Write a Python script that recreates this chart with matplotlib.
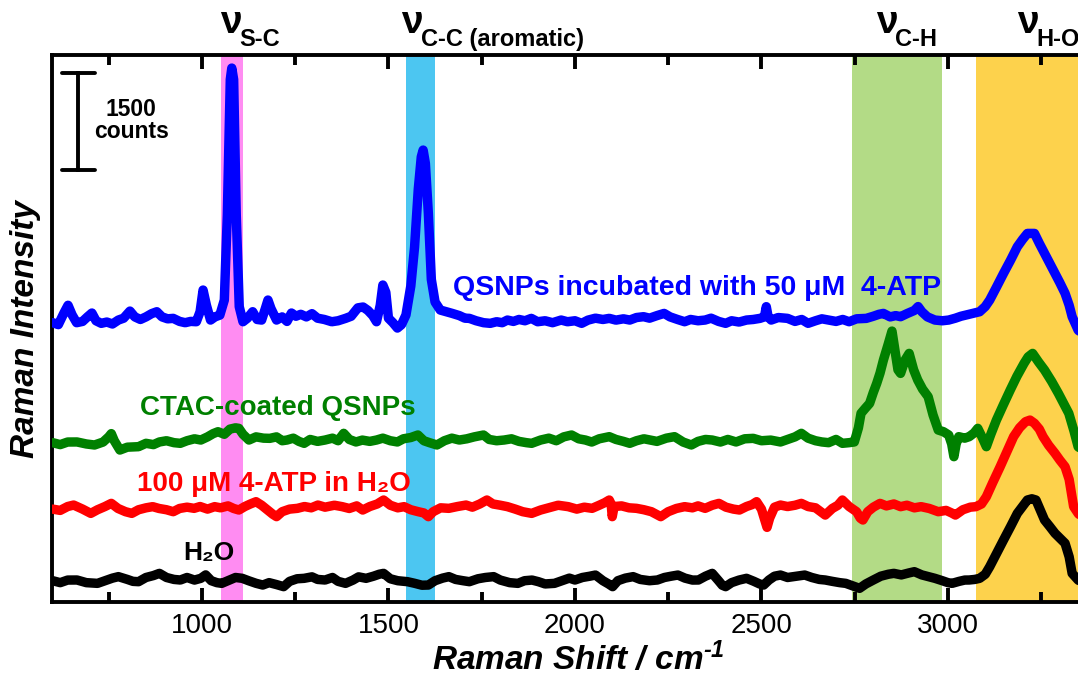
import matplotlib
matplotlib.use("Agg")
import matplotlib.pyplot as plt
from matplotlib.transforms import blended_transform_factory

plt.rcParams['font.family'] = ['Liberation Sans', 'DejaVu Sans']
plt.rcParams['mathtext.fontset'] = 'custom'
plt.rcParams['mathtext.rm'] = 'Liberation Sans:italic:bold'
plt.rcParams['mathtext.it'] = 'Liberation Sans:italic:bold'
plt.rcParams['mathtext.bf'] = 'Liberation Sans:bold'

# --- spectra (Raman shift in cm-1, intensity in counts incl. offset) ---
blue_x = [600, 615, 630, 641, 652, 664, 680, 693, 705, 716, 730, 745, 760, 776, 790, 807, 820, 835, 850, 865,
          879, 893, 908, 923, 940, 955, 970, 985, 995, 1003, 1012, 1023, 1035, 1048, 1060, 1068, 1076, 1080,
          1085, 1092, 1100, 1110, 1122, 1136, 1148, 1160, 1170, 1177, 1185, 1200, 1215, 1228, 1240, 1252,
          1265, 1280, 1295, 1310, 1328, 1348, 1365, 1385, 1400, 1418, 1432, 1445, 1458, 1468, 1478, 1485,
          1493, 1500, 1512, 1524, 1535, 1547, 1560, 1570, 1580, 1588, 1593, 1599, 1607, 1615, 1625, 1639,
          1655, 1671, 1690, 1705, 1717, 1735, 1755, 1773, 1790, 1805, 1819, 1835, 1850, 1866, 1883, 1900,
          1920, 1940, 1963, 1980, 2000, 2018, 2035, 2055, 2075, 2092, 2110, 2130, 2147, 2165, 2184, 2200,
          2220, 2239, 2255, 2275, 2294, 2310, 2330, 2349, 2365, 2385, 2404, 2420, 2440, 2460, 2478, 2496,
          2508, 2513, 2518, 2526, 2545, 2570, 2590, 2608, 2625, 2645, 2662, 2680, 2700, 2718, 2735, 2755,
          2781, 2800, 2815, 2827, 2845, 2860, 2873, 2890, 2910, 2920, 2930, 2945, 2965, 2985, 3002, 3020,
          3035, 3048, 3065, 3085, 3100, 3112, 3130, 3149, 3168, 3186, 3200, 3213, 3232, 3245, 3259, 3273,
          3287, 3300, 3314, 3325, 3333, 3349, 3360]
blue_y = [4330, 4300, 4480, 4600, 4450, 4330, 4350, 4420, 4480, 4360, 4320, 4340, 4310, 4371, 4400, 4510,
          4420, 4380, 4420, 4470, 4500, 4420, 4390, 4397, 4350, 4330, 4350, 4345, 4500, 4836, 4600, 4371,
          4420, 4448, 4681, 6000, 8100, 8277, 8100, 6000, 4578, 4345, 4400, 4500, 4380, 4371, 4550, 4681,
          4550, 4371, 4420, 4350, 4480, 4430, 4460, 4420, 4470, 4400, 4380, 4345, 4360, 4397, 4430, 4560,
          4573, 4520, 4440, 4345, 4600, 4914, 4800, 4400, 4330, 4247, 4300, 4450, 4900, 5500, 6400, 6900,
          7006, 6800, 6024, 5000, 4650, 4526, 4500, 4474, 4440, 4400, 4397, 4360, 4330, 4320, 4345, 4330,
          4371, 4350, 4380, 4360, 4397, 4345, 4360, 4330, 4371, 4345, 4360, 4320, 4370, 4400, 4380, 4397,
          4370, 4390, 4371, 4410, 4423, 4400, 4440, 4474, 4420, 4380, 4345, 4380, 4360, 4371, 4400, 4350,
          4320, 4360, 4340, 4371, 4380, 4397, 4420, 4578, 4420, 4371, 4410, 4397, 4350, 4380, 4320, 4360,
          4390, 4371, 4350, 4380, 4345, 4390, 4397, 4430, 4460, 4474, 4420, 4440, 4423, 4470, 4520, 4580,
          4500, 4420, 4371, 4360, 4371, 4400, 4430, 4448, 4470, 4500, 4580, 4681, 4880, 5094, 5300, 5507,
          5620, 5714, 5714, 5560, 5404, 5250, 5094, 4950, 4785, 4600, 4423, 4216, 4150]

green_x = [600, 620, 640, 665, 690, 712, 735, 750, 757, 765, 780, 800, 830, 850, 870, 886, 905, 925, 942, 960,
           980, 997, 1015, 1030, 1043, 1060, 1075, 1090, 1099, 1110, 1126, 1145, 1165, 1182, 1200, 1215, 1228,
           1245, 1260, 1274, 1290, 1310, 1330, 1350, 1365, 1380, 1395, 1413, 1430, 1450, 1468, 1485, 1505,
           1524, 1540, 1560, 1579, 1595, 1610, 1630, 1650, 1670, 1690, 1710, 1730, 1755, 1770, 1790, 1810,
           1830, 1850, 1870, 1884, 1908, 1930, 1950, 1970, 1991, 2010, 2028, 2045, 2065, 2092, 2110, 2130,
           2147, 2165, 2185, 2202, 2220, 2245, 2267, 2290, 2312, 2330, 2350, 2368, 2390, 2410, 2432, 2455,
           2478, 2500, 2525, 2551, 2570, 2590, 2607, 2625, 2645, 2662, 2680, 2700, 2717, 2735, 2749, 2760,
           2767, 2778, 2790, 2800, 2809, 2818, 2827, 2840, 2850, 2858, 2866, 2873, 2885, 2896, 2908, 2919,
           2932, 2947, 2960, 2974, 2988, 3002, 3010, 3016, 3022, 3029, 3045, 3057, 3070, 3080, 3092, 3103,
           3115, 3130, 3148, 3167, 3185, 3204, 3215, 3227, 3243, 3259, 3278, 3296, 3310, 3324, 3338, 3349,
           3360]
green_y = [2470, 2440, 2480, 2481, 2450, 2434, 2480, 2560, 2610, 2500, 2356, 2400, 2408, 2460, 2440, 2481,
           2500, 2470, 2460, 2500, 2530, 2511, 2560, 2610, 2640, 2600, 2680, 2700, 2692, 2600, 2511, 2560,
           2540, 2537, 2560, 2500, 2511, 2540, 2490, 2460, 2520, 2490, 2511, 2540, 2500, 2615, 2520, 2481,
           2510, 2490, 2511, 2540, 2500, 2481, 2530, 2550, 2589, 2500, 2470, 2434, 2500, 2540, 2511, 2530,
           2560, 2589, 2520, 2500, 2511, 2530, 2490, 2470, 2460, 2511, 2540, 2500, 2560, 2589, 2530, 2511,
           2480, 2530, 2563, 2520, 2490, 2460, 2500, 2530, 2511, 2490, 2540, 2563, 2480, 2434, 2490, 2520,
           2511, 2480, 2520, 2481, 2530, 2537, 2500, 2510, 2481, 2520, 2560, 2615, 2540, 2500, 2481, 2470,
           2520, 2460, 2470, 2481, 2700, 2925, 3000, 3079, 3250, 3389, 3550, 3751, 4000, 4200, 3900, 3600,
           3544, 3750, 3854, 3600, 3441, 3300, 3182, 2900, 2666, 2640, 2589, 2450, 2253, 2450, 2563, 2540,
           2563, 2620, 2692, 2550, 2408, 2600, 2821, 3050, 3286, 3500, 3699, 3800, 3854, 3720, 3596, 3420,
           3235, 3080, 2925, 2650, 2408, 2350]

red_x = [600, 620, 640, 656, 680, 702, 720, 740, 757, 775, 795, 812, 830, 850, 868, 885, 905, 923, 940, 960,
         979, 995, 1015, 1034, 1050, 1070, 1085, 1099, 1115, 1130, 1145, 1160, 1175, 1190, 1200, 1215, 1235,
         1256, 1275, 1293, 1311, 1330, 1355, 1376, 1395, 1415, 1431, 1450, 1470, 1487, 1505, 1525, 1542,
         1560, 1580, 1595, 1607, 1620, 1640, 1662, 1685, 1708, 1725, 1745, 1764, 1780, 1800, 1819, 1840,
         1860, 1884, 1908, 1930, 1955, 1982, 2005, 2025, 2046, 2065, 2080, 2092, 2097, 2100, 2105, 2125,
         2145, 2165, 2185, 2205, 2230, 2250, 2272, 2294, 2315, 2330, 2349, 2368, 2386, 2405, 2425, 2441,
         2460, 2475, 2487, 2500, 2510, 2515, 2522, 2535, 2551, 2570, 2590, 2607, 2625, 2645, 2671, 2690,
         2705, 2717, 2735, 2755, 2765, 2772, 2785, 2800, 2818, 2835, 2855, 2873, 2890, 2910, 2928, 2950,
         2974, 2995, 3010, 3020, 3040, 3060, 3075, 3090, 3103, 3120, 3140, 3158, 3176, 3192, 3208, 3220,
         3232, 3245, 3255, 3270, 3287, 3300, 3314, 3325, 3337, 3349, 3360]
red_y = [1440, 1420, 1480, 1503, 1440, 1374, 1430, 1480, 1529, 1450, 1400, 1374, 1430, 1460, 1478, 1450,
         1430, 1400, 1450, 1470, 1452, 1480, 1440, 1478, 1460, 1490, 1450, 1426, 1480, 1520, 1555, 1500,
         1430, 1360, 1323, 1400, 1440, 1452, 1480, 1460, 1503, 1470, 1500, 1478, 1450, 1490, 1426, 1480,
         1520, 1581, 1500, 1460, 1478, 1430, 1400, 1380, 1323, 1400, 1460, 1452, 1480, 1503, 1470, 1520,
         1581, 1520, 1500, 1478, 1440, 1400, 1374, 1426, 1460, 1500, 1478, 1440, 1470, 1452, 1500, 1540,
         1581, 1520, 1323, 1480, 1490, 1460, 1452, 1430, 1400, 1323, 1400, 1450, 1478, 1460, 1490, 1452,
         1500, 1529, 1470, 1440, 1426, 1480, 1510, 1555, 1440, 1250, 1157, 1300, 1470, 1503, 1480, 1500,
         1529, 1480, 1460, 1348, 1450, 1500, 1581, 1480, 1400, 1300, 1271, 1400, 1470, 1529, 1490, 1520,
         1478, 1500, 1460, 1478, 1450, 1400, 1420, 1380, 1348, 1430, 1470, 1478, 1520, 1632, 1850, 2097,
         2330, 2563, 2700, 2795, 2820, 2770, 2680, 2563, 2430, 2305, 2200, 2097, 1900, 1478, 1374, 1300]

black_x = [600, 620, 640, 665, 690, 720, 745, 760, 776, 800, 815, 830, 850, 870, 886, 905, 925, 942, 960, 980,
           997, 1010, 1025, 1040, 1053, 1070, 1090, 1108, 1125, 1145, 1163, 1180, 1200, 1219, 1235, 1255,
           1274, 1295, 1310, 1330, 1350, 1365, 1385, 1405, 1420, 1440, 1460, 1475, 1487, 1505, 1525, 1551,
           1570, 1590, 1607, 1625, 1645, 1662, 1680, 1700, 1717, 1740, 1760, 1782, 1800, 1825, 1847, 1865,
           1885, 1902, 1920, 1945, 1965, 1985, 2000, 2020, 2040, 2055, 2075, 2090, 2101, 2115, 2135, 2156,
           2175, 2200, 2221, 2240, 2258, 2276, 2295, 2315, 2331, 2350, 2368, 2385, 2395, 2404, 2420, 2440,
           2460, 2480, 2495, 2506, 2520, 2535, 2551, 2570, 2595, 2616, 2635, 2655, 2671, 2690, 2710, 2726,
           2745, 2763, 2780, 2800, 2820, 2840, 2855, 2875, 2895, 2910, 2930, 2950, 2965, 2985, 3000, 3011,
           3030, 3045, 3057, 3072, 3085, 3100, 3112, 3130, 3149, 3168, 3186, 3200, 3213, 3225, 3236, 3248,
           3259, 3273, 3287, 3300, 3314, 3325, 3333, 3349, 3360]
black_y = [330, 300, 340, 341, 300, 289, 340, 370, 393, 350, 320, 315, 380, 410, 444, 380, 350, 341, 380, 340,
           367, 420, 330, 300, 289, 330, 380, 367, 330, 290, 263, 300, 270, 238, 320, 360, 367, 390, 350, 341,
           380, 320, 289, 340, 390, 367, 400, 430, 444, 360, 330, 315, 290, 260, 263, 330, 370, 393, 350, 330,
           315, 360, 380, 393, 340, 300, 289, 330, 340, 315, 280, 289, 330, 370, 341, 380, 400, 418, 330, 280,
           238, 330, 370, 393, 350, 330, 341, 380, 400, 418, 370, 340, 341, 400, 444, 330, 260, 238, 300, 340,
           367, 320, 280, 263, 340, 400, 418, 380, 400, 418, 380, 350, 341, 320, 300, 289, 250, 212, 280, 341,
           400, 430, 444, 420, 450, 470, 420, 390, 367, 330, 300, 289, 320, 340, 341, 350, 367, 430, 547, 750,
           961, 1170, 1374, 1480, 1581, 1600, 1581, 1420, 1271, 1170, 1065, 990, 910, 700, 444, 341, 300]

series_labels = ["QSNPs incubated with 50 \u03bcM  4-ATP", "CTAC-coated QSNPs",
                 "100 \u03bcM 4-ATP in H\u2082O", "H\u2082O"]
series_colors = ["#0000ff", "#008000", "#ff0000", "#000000"]

# highlighted bands (cm-1) and their mode labels
band_ranges = [(1051, 1110), (1548, 1625), (2743, 2984), (3075, 3500)]
band_colors = ["#ff8cf2", "#4cc6f1", "#b3db86", "#fdd24c"]
band_modes = ["S-C", "C-C (aromatic)", "C-H", "H-O"]
mode_x = [1048, 1534, 2807, 3185]

scale_bar_counts = 1500

fig = plt.figure(figsize=(10.78, 6.83), dpi=100)
ax = fig.add_axes([52 / 1078, 81 / 683, 1052.6 / 1078, 547 / 683])
ax.set_xlim(598, 3420)
ax.set_ylim(0, 8480)

for (lo, hi), c in zip(band_ranges, band_colors):
    ax.axvspan(lo, hi, color=c, lw=0, zorder=0)

for xs, ys, c in [(black_x, black_y, series_colors[3]), (red_x, red_y, series_colors[2]),
                  (green_x, green_y, series_colors[1]), (blue_x, blue_y, series_colors[0])]:
    ax.plot(xs, ys, color=c, lw=6.8, solid_joinstyle='round', solid_capstyle='round', zorder=3)

# labels next to the traces
ax.text(1673, 4867, series_labels[0], color=series_colors[0], fontsize=20.5, fontweight='bold', va='center', zorder=4)
ax.text(834, 3007, series_labels[1], color=series_colors[1], fontsize=20, fontweight='bold', va='center', zorder=4)
ax.text(826, 1829, series_labels[2], color=series_colors[2], fontsize=20, fontweight='bold', va='center', zorder=4)
ax.text(949, 760, series_labels[3], color=series_colors[3], fontsize=19, fontweight='bold', va='center', zorder=4)

# scale bar
ax.plot([668, 668], [6700, 6700 + scale_bar_counts], color='k', lw=2.8, zorder=4)
ax.plot([625, 712], [6700, 6700], color='k', lw=2.8, solid_capstyle='round', zorder=4)
ax.plot([625, 712], [6700 + scale_bar_counts, 6700 + scale_bar_counts], color='k', lw=2.8,
        solid_capstyle='round', zorder=4)
ax.text(810, 7470, "%d\ncounts" % scale_bar_counts, fontsize=16.5, fontweight='bold', va='center',
        ha='center', multialignment='center', linespacing=0.95, zorder=4)

# mode annotations above the axes
tr = blended_transform_factory(ax.transData, fig.transFigure)
for xm, mode in zip(mode_x, band_modes):
    ax.text(xm, 1 - 33 / 683, "\u03bd", fontsize=28, fontweight='bold', transform=tr, va='baseline',
            ha='left', clip_on=False)
    ax.text(xm + 52, 1 - 46 / 683, mode, fontsize=17, fontweight='bold', transform=tr, va='baseline',
            ha='left', clip_on=False)

ax.set_xticks([1000, 1500, 2000, 2500, 3000])
ax.set_xticks([750, 1250, 1750, 2250, 2750, 3250], minor=True)
ax.set_yticks([])
ax.tick_params(axis='x', which='both', direction='in', top=True, bottom=True, width=2.8, labelsize=20, pad=8)
ax.tick_params(axis='x', which='major', length=10)
ax.tick_params(axis='x', which='minor', length=7)
for s in ['left', 'bottom', 'top']:
    ax.spines[s].set_linewidth(2.8)
ax.spines['right'].set_visible(False)

ax.set_xlabel(r"Raman Shift / cm$^{\text{-1}}$", fontsize=24, fontweight='bold', style='italic', labelpad=2)
ax.set_ylabel("Raman Intensity", fontsize=24, fontweight='bold', style='italic', labelpad=8)

fig.savefig("out.png", dpi=100)
